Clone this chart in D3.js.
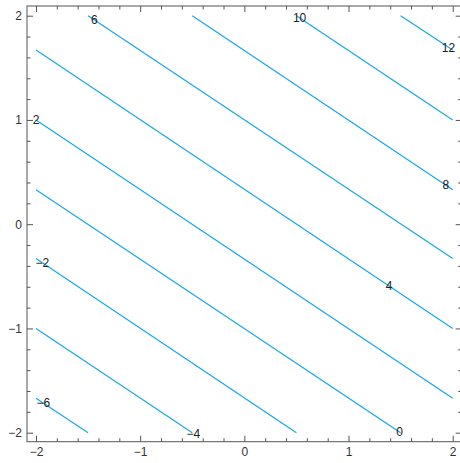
<!DOCTYPE html>
<html>
<head>
<meta charset="utf-8">
<script src="https://cdn.jsdelivr.net/npm/d3@7"></script>
<style>
  body { margin: 0; background: #fff; }
  svg text { font-family: "Liberation Sans", Arial, sans-serif; }
</style>
</head>
<body>
<div id="chart"></div>
<script>
// contour levels and where each line meets the plot edges
var levels = [-6, -4, -2, 0, 2, 4, 6, 8, 10, 12]
var startX = [-2, -2, -2, -2, -2, -2, -1.5, -0.5, 0.5, 1.5]
var startY = [-1.67, -1, -0.33, 0.33, 1, 1.67, 2, 2, 2, 2]
var endX = [-1.5, -0.5, 0.5, 1.5, 2, 2, 2, 2, 2, 2]
var endY = [-2, -2, -2, -2, -1.67, -1, -0.33, 0.33, 1, 1.67]
// x position of each contour label along its line
var labelX = [-1.93, -0.49, -1.94, 1.49, -2.0, 1.39, -1.44, 1.935, 0.53, 1.96]
var majorTicks = [-2, -1, 0, 1, 2]

var width = 460
var height = 463
var pad = 9

var x = d3.scaleLinear().domain([-2, 2]).range([36, 452.7])
var y = d3.scaleLinear().domain([-2, 2]).range([432.7, 15.7])
var fmt = d3.format("d")

var minorTicks = d3.range(-2, 2.001, 0.2).map(function(d){ return Math.round(d*10)/10 })
  .filter(function(d){ return majorTicks.indexOf(d) < 0 })

var svg = d3.select("#chart")
  .append("svg")
  .attr("width", width)
  .attr("height", height)

var x0 = x(-2) - pad, x1 = x(2) + pad
var y0 = y(2) - 9.7, y1 = y(-2) + 9

var lines = levels.map(function(v, i){
  return {level: v, pts: [[startX[i], startY[i]], [endX[i], endY[i]]], lx: labelX[i]}
})

var line = d3.line()
  .x(function(d){ return x(d[0]) })
  .y(function(d){ return y(d[1]) })

svg.append("g")
  .selectAll("path")
  .data(lines)
  .enter()
  .append("path")
    .attr("d", function(d){ return line(d.pts) })
    .attr("fill", "none")
    .attr("stroke", "#14a8ec")
    .attr("stroke-width", 1.2)

// labels sit on their line
svg.append("g")
  .selectAll("text")
  .data(lines)
  .enter()
  .append("text")
    .attr("x", function(d){ return x(d.lx) })
    .attr("y", function(d){
      var a = d.pts[0], b = d.pts[1]
      var t = (d.lx - a[0]) / (b[0] - a[0])
      return y(a[1] + t * (b[1] - a[1]))
    })
    .attr("dy", "0.35em")
    .attr("text-anchor", "middle")
    .attr("font-size", 12)
    .attr("fill", "#222")
    .text(function(d){ return fmt(d.level) })

// frame
svg.append("rect")
  .attr("x", x0).attr("y", y0)
  .attr("width", x1 - x0).attr("height", y1 - y0)
  .attr("fill", "none")
  .attr("stroke", "#555")
  .attr("stroke-width", 1)

function styleAxis(g){
  g.select(".domain").remove()
  g.selectAll(".tick line").attr("stroke", "#555")
  g.selectAll(".tick text").attr("fill", "#333").attr("font-size", 12)
    .style("font-family", "Liberation Sans, Arial, sans-serif")
}

// major ticks with labels (bottom, left) and mirrored ticks (top, right)
svg.append("g").attr("transform", "translate(0," + y1 + ")")
  .call(d3.axisBottom(x).tickValues(majorTicks).tickFormat(fmt).tickSizeInner(-6).tickSizeOuter(0).tickPadding(6))
  .call(styleAxis)
svg.append("g").attr("transform", "translate(0," + y1 + ")")
  .call(d3.axisBottom(x).tickValues(minorTicks).tickSizeInner(-3.5).tickSizeOuter(0).tickFormat(""))
  .call(styleAxis)
svg.append("g").attr("transform", "translate(" + x0 + ",0)")
  .call(d3.axisLeft(y).tickValues(majorTicks).tickFormat(fmt).tickSizeInner(-6).tickSizeOuter(0).tickPadding(5))
  .call(styleAxis)
svg.append("g").attr("transform", "translate(" + x0 + ",0)")
  .call(d3.axisLeft(y).tickValues(minorTicks).tickSizeInner(-3.5).tickSizeOuter(0).tickFormat(""))
  .call(styleAxis)
svg.append("g").attr("transform", "translate(0," + y0 + ")")
  .call(d3.axisTop(x).tickValues(majorTicks).tickSizeInner(-6).tickSizeOuter(0).tickFormat(""))
  .call(styleAxis)
svg.append("g").attr("transform", "translate(0," + y0 + ")")
  .call(d3.axisTop(x).tickValues(minorTicks).tickSizeInner(-3.5).tickSizeOuter(0).tickFormat(""))
  .call(styleAxis)
svg.append("g").attr("transform", "translate(" + x1 + ",0)")
  .call(d3.axisRight(y).tickValues(majorTicks).tickSizeInner(-6).tickSizeOuter(0).tickFormat(""))
  .call(styleAxis)
svg.append("g").attr("transform", "translate(" + x1 + ",0)")
  .call(d3.axisRight(y).tickValues(minorTicks).tickSizeInner(-3.5).tickSizeOuter(0).tickFormat(""))
  .call(styleAxis)
</script>
</body>
</html>
